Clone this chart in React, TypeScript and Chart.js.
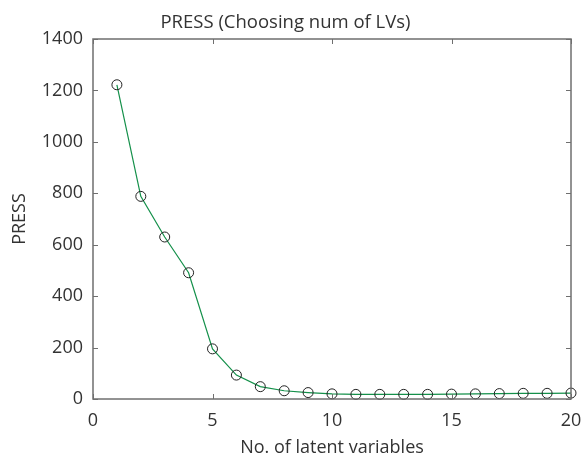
import React, { useEffect, useRef } from "react";
import { Chart, registerables } from "chart.js";

Chart.register(...registerables);

const numLVs = [1, 2, 3, 4, 5, 6, 7, 8, 9, 10, 11, 12, 13, 14, 15, 16, 17, 18, 19, 20];
const pressValues = [1222, 788, 630, 491, 195, 93, 48, 32, 25, 20, 18, 18, 18, 18, 19, 20, 21, 22, 22, 23];
const titleText = "PRESS (Choosing num of LVs)";
const xLabel = "No. of latent variables";
const yLabel = "PRESS";

const FONT = "'Open Sans', sans-serif";
const TEXT = "#333333";
const AXIS = "#6f6f6f";

const boxPlugin = {
  id: "matlabBox",
  afterDraw(chart: any) {
    const { ctx, chartArea } = chart;
    const { left, right, top, bottom } = chartArea;
    const xs = chart.scales.x;
    const ys = chart.scales.y;
    ctx.save();
    ctx.strokeStyle = AXIS;
    ctx.lineWidth = 1.5;
    ctx.strokeRect(left, top, right - left, bottom - top);
    ctx.lineWidth = 1;
    const tl = 5;
    ctx.beginPath();
    xs.ticks.forEach((t: any) => {
      const px = Math.round(xs.getPixelForValue(t.value)) + 0.5;
      ctx.moveTo(px, bottom);
      ctx.lineTo(px, bottom - tl);
      ctx.moveTo(px, top);
      ctx.lineTo(px, top + tl);
    });
    ys.ticks.forEach((t: any) => {
      const py = Math.round(ys.getPixelForValue(t.value)) + 0.5;
      ctx.moveTo(left, py);
      ctx.lineTo(left + tl, py);
      ctx.moveTo(right, py);
      ctx.lineTo(right - tl, py);
    });
    ctx.stroke();
    ctx.restore();
  },
};

const bgPlugin = {
  id: "bgWhite",
  beforeDraw(chart: any) {
    const { ctx, width, height } = chart;
    ctx.save();
    ctx.fillStyle = "#ffffff";
    ctx.fillRect(0, 0, width, height);
    ctx.restore();
  },
};

export default function App() {
  const ref = useRef<HTMLCanvasElement | null>(null);
  useEffect(() => {
    if (!ref.current) return;
    const chart = new Chart(ref.current, {
      type: "line",
      data: {
        datasets: [
          {
            data: numLVs.map((x, i) => ({ x, y: pressValues[i] })),
            borderColor: "#14904a",
            borderWidth: 1.2,
            pointRadius: 5,
            pointBorderColor: "#222222",
            pointBorderWidth: 1,
            pointBackgroundColor: "rgba(0,0,0,0)",
            tension: 0,
            clip: false as any,
          },
        ],
      },
      options: {
        responsive: false,
        animation: false,
        layout: { padding: { left: 0, right: 11, top: 0, bottom: 0 } },
        plugins: {
          legend: { display: false },
          tooltip: { enabled: false },
          title: {
            display: true,
            text: titleText,
            color: TEXT,
            font: { family: FONT, size: 18.5, weight: "normal" as any, lineHeight: 1.2 },
            padding: { top: 12, bottom: 4.8 },
          },
        },
        scales: {
          x: {
            type: "linear",
            min: 0,
            max: 20,
            grid: { display: false, drawTicks: false },
            border: { display: false },
            ticks: {
              stepSize: 5,
              color: TEXT,
              padding: 11,
              maxRotation: 0,
              font: { family: FONT, size: 18 },
              callback: (v: any) => String(v),
            },
            title: {
              display: true,
              text: xLabel,
              color: TEXT,
              font: { family: FONT, size: 18 },
              padding: { top: 1, bottom: 0 },
            },
            afterFit(scale: any) {
              scale.height = 60;
              scale.paddingLeft = 0;
              scale.paddingRight = 0;
            },
          },
          y: {
            type: "linear",
            min: 0,
            max: 1400,
            grid: { display: false, drawTicks: false },
            border: { display: false },
            ticks: {
              stepSize: 200,
              color: TEXT,
              padding: 10,
              font: { family: FONT, size: 18 },
              callback: (v: any) => String(v),
            },
            title: {
              display: true,
              text: yLabel,
              color: TEXT,
              font: { family: FONT, size: 18 },
              padding: { top: 9, bottom: 0 },
            },
            afterFit(scale: any) {
              scale.width = 93;
              scale.paddingTop = 0;
              scale.paddingBottom = 0;
            },
          },
        },
      },
      plugins: [bgPlugin, boxPlugin],
    });
    return () => chart.destroy();
  }, []);
  return (
    <div style={{ position: "fixed", left: 0, top: 0, width: 582, height: 459, background: "#fff" }}>
      <canvas ref={ref} width={582} height={459} />
    </div>
  );
}
